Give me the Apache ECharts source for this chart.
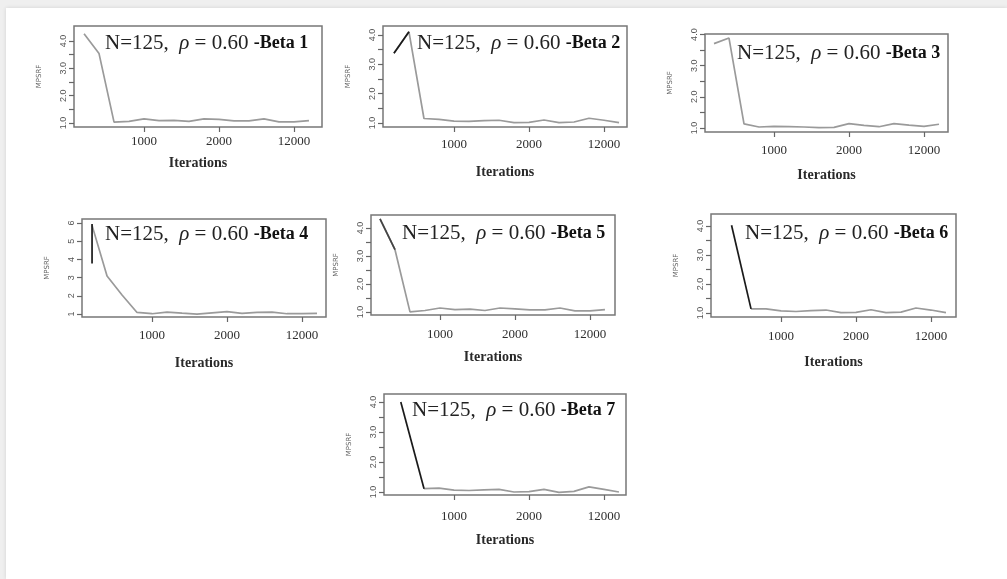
<!DOCTYPE html>
<html>
<head>
    <meta charset="utf-8">
    <title>MPSRF - Beta 1..7</title>
    <script src="https://cdn.jsdelivr.net/npm/echarts@6/dist/echarts.min.js"></script>
    <style>
        html, body {
            margin: 0;
            padding: 0;
            background-color: #efefef;
        }

        .card {
            position: absolute;
            left: 6px;
            top: 8px;
            width: 1001px;
            height: 571px;
            background-color: #fff;
            box-shadow: 0 0 4px rgba(0, 0, 0, 0.12);
        }

        #main {
            position: absolute;
            left: 0;
            top: 0;
            width: 1007px;
            height: 579px;
        }
    </style>
</head>
<body>
    <div class="card"></div>
    <div id="main"></div>

    <script type="text/javascript">
        // iteration index of each plotted point, and the x tick labels
        const xs = [0, 1, 2, 3, 4, 5, 6, 7, 8, 9, 10, 11, 12, 13, 14, 15];
        const xTickIdx = [4, 9, 14];
        const xTickLabels = ['1000', '2000', '12000'];

        // y ticks
        const yTicks = [1, 1.5, 2, 2.5, 3, 3.5, 4];
        const yLabels = [1, 2, 3, 4];
        const yTicks4 = [1, 2, 3, 4, 5, 6];

        // MPSRF values (grey line)
        const beta1 = [4.27, 3.54, 1.03, 1.06, 1.15, 1.09, 1.10, 1.06, 1.15, 1.13, 1.08, 1.08, 1.15, 1.04, 1.04, 1.09];
        const beta2 = [3.38, 4.11, 1.15, 1.12, 1.06, 1.05, 1.08, 1.09, 1.01, 1.02, 1.10, 1.01, 1.03, 1.16, 1.09, 1.01];
        const beta3 = [3.71, 3.89, 1.13, 1.03, 1.05, 1.04, 1.03, 1.01, 1.02, 1.14, 1.08, 1.04, 1.14, 1.09, 1.05, 1.12];
        const beta4 = [5.87, 3.09, 2.05, 1.09, 1.02, 1.11, 1.05, 1.00, 1.07, 1.13, 1.04, 1.09, 1.11, 1.02, 1.02, 1.04];
        const beta5 = [4.32, 3.22, 1.00, 1.05, 1.14, 1.08, 1.10, 1.05, 1.14, 1.11, 1.07, 1.07, 1.14, 1.04, 1.04, 1.08];
        const beta6 = [null, null, 1.14, 1.14, 1.07, 1.05, 1.08, 1.10, 1.01, 1.02, 1.11, 1.01, 1.03, 1.17, 1.10, 1.01];
        const beta7 = [null, null, 1.11, 1.13, 1.06, 1.05, 1.07, 1.09, 1.00, 1.01, 1.09, 0.99, 1.02, 1.17, 1.09, 1.00];

        // dark overlaid segments [index, value]
        const dark2 = [[0, 3.38], [1, 4.11]];
        const dark4 = [[0, 3.78], [0, 5.95]];
        const dark5 = [[0, 4.32], [1, 3.22]];
        const dark6 = [[0.7, 4.02], [2, 1.14]];
        const dark7 = [[0.45, 4.0], [2, 1.11]];

        const titles = ['Beta 1', 'Beta 2', 'Beta 3', 'Beta 4', 'Beta 5', 'Beta 6', 'Beta 7'];

        // layout of each panel (pixels)
        const panels = [
            { vals: beta1, dark: null,  left: 74,  top: 26,  w: 248, h: 101, xmin: -0.67, xmax: 15.87, ymin: 0.854, ymax: 4.55, lm: 8,  ng: 29, tx: 105, ty: 42 },
            { vals: beta2, dark: dark2, left: 383, top: 26,  w: 244, h: 101, xmin: -0.73, xmax: 15.53, ymin: 0.86,  ymax: 4.31, lm: 11, ng: 38, tx: 417, ty: 42 },
            { vals: beta3, dark: null,  left: 705, top: 34,  w: 243, h: 98,  xmin: -0.6,  xmax: 15.6,  ymin: 0.87,  ymax: 4.02, lm: 12, ng: 36, tx: 737, ty: 52 },
            { vals: beta4, dark: dark4, left: 82,  top: 219, w: 244, h: 98,  xmin: -0.67, xmax: 15.6,  ymin: 0.84,  ymax: 6.22, lm: 12, ng: 39, tx: 105, ty: 233, big: true },
            { vals: beta5, dark: dark5, left: 371, top: 215, w: 244, h: 100, xmin: -0.6,  xmax: 15.67, ymin: 0.89,  ymax: 4.46, lm: 13, ng: 35, tx: 402, ty: 232 },
            { vals: beta6, dark: dark6, left: 711, top: 214, w: 245, h: 103, xmin: -0.67, xmax: 15.67, ymin: 0.86,  ymax: 4.41, lm: 13, ng: 38, tx: 745, ty: 232 },
            { vals: beta7, dark: dark7, left: 384, top: 394, w: 242, h: 101, xmin: -0.67, xmax: 15.47, ymin: 0.9,   ymax: 4.27, lm: 15, ng: 38, tx: 412, ty: 409 }
        ];

        const chart = echarts.init(document.getElementById('main'));

        const grid = [], xAxis = [], yAxis = [], series = [], title = [];

        panels.forEach(function (p, i) {
            grid.push({
                left: p.left, top: p.top, width: p.w, height: p.h,
                show: true, borderColor: '#777', borderWidth: 1.5,
                backgroundColor: 'transparent', containLabel: false
            });
            xAxis.push({
                gridIndex: i, type: 'value', min: p.xmin, max: p.xmax,
                name: 'Iterations', nameLocation: 'middle', nameGap: p.ng,
                nameTextStyle: { fontFamily: 'Liberation Serif', fontWeight: 'bold', fontSize: 14, color: '#2a2a2a' },
                axisLine: { show: false, onZero: false },
                splitLine: { show: false },
                axisTick: { show: true, length: 5, lineStyle: { color: '#666', width: 1.2 }, customValues: xTickIdx },
                axisLabel: {
                    margin: p.lm, customValues: xTickIdx,
                    fontFamily: 'Liberation Serif', fontSize: 13, color: '#2e2e2e',
                    formatter: function (v) {
                        const k = xTickIdx.indexOf(Math.round(v));
                        return k >= 0 ? xTickLabels[k] : '';
                    }
                }
            });
            yAxis.push({
                gridIndex: i, type: 'value', min: p.ymin, max: p.ymax,
                name: 'MPSRF', nameLocation: 'middle', nameGap: 31, nameRotate: 90,
                nameTextStyle: { fontFamily: 'DejaVu Sans', fontSize: 7, color: '#666' },
                axisLine: { show: false, onZero: false },
                splitLine: { show: false },
                axisTick: { show: true, length: 5, lineStyle: { color: '#666', width: 1.2 }, customValues: p.big ? yTicks4 : yTicks },
                axisLabel: {
                    rotate: 90, margin: 6, customValues: p.big ? yTicks4 : yLabels,
                    fontFamily: 'Liberation Sans', fontSize: 9, color: '#555',
                    formatter: function (v) {
                        return p.big ? String(Math.round(v)) : v.toFixed(1);
                    }
                }
            });
            series.push({
                type: 'line', xAxisIndex: i, yAxisIndex: i,
                data: xs.map(function (x, k) { return [x, p.vals[k]]; }),
                showSymbol: false, connectNulls: false,
                lineStyle: { color: '#9a9a9a', width: 1.7 },
                silent: true, animation: false
            });
            if (p.dark) {
                series.push({
                    type: 'line', xAxisIndex: i, yAxisIndex: i,
                    data: p.dark, showSymbol: false,
                    lineStyle: { color: i === 4 ? '#444' : '#1a1a1a', width: 1.7 },
                    silent: true, animation: false
                });
            }
            title.push({
                left: p.tx, top: p.ty - 10, padding: 0,
                text: '{a|N=125,  }{b|ρ}{a| = 0.60 }{c|-' + titles[i] + '}',
                textStyle: {
                    rich: {
                        a: { fontFamily: 'Liberation Serif', fontWeight: 'normal', fontSize: 21, color: '#222', lineHeight: 22 },
                        b: { fontFamily: 'Liberation Serif', fontWeight: 'normal', fontStyle: 'italic', fontSize: 21, color: '#222', lineHeight: 22 },
                        c: { fontFamily: 'Liberation Serif', fontWeight: 'bold', fontSize: 18, color: '#111', lineHeight: 22 }
                    }
                }
            });
        });

        chart.setOption({
            animation: false,
            title: title,
            grid: grid,
            xAxis: xAxis,
            yAxis: yAxis,
            series: series
        });

        window.addEventListener('resize', function () {
            chart.resize();
        });
    </script>
</body>
</html>
